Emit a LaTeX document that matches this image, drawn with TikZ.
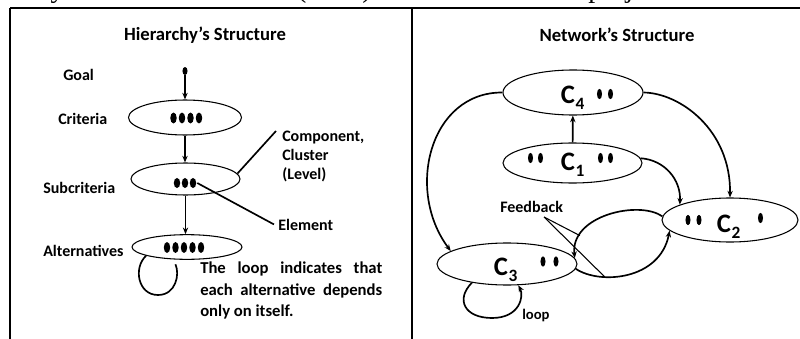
\documentclass[tikz,border=0pt]{standalone}
\usepackage{fontspec}
\setmainfont{Carlito}
\newfontfamily\hdrfont{Liberation Serif}
\usetikzlibrary{shapes.geometric,arrows.meta}
\newcommand{\Cs}[1]{C\kern0.6pt\raisebox{-5pt}{\fontsize{13}{13}\bfseries\selectfont #1}}
\begin{document}
\begin{tikzpicture}[x=0.75pt,y=-0.75pt,
  lbl/.style={font=\fontsize{12}{14}\bfseries\selectfont, inner sep=0pt, anchor=base west},
  ttl/.style={font=\fontsize{14}{16}\bfseries\selectfont, inner sep=0pt, anchor=base},
  cl/.style={font=\fontsize{20}{22}\bfseries\selectfont, inner sep=0pt, anchor=base west},
  hdr/.style={font=\hdrfont\fontsize{21}{21}\selectfont, inner sep=0pt},
  ell/.style={ellipse, draw, line width=0.8pt, inner sep=0pt},
  conn/.style={line width=1.25pt},
  thin/.style={line width=0.8pt},
  arr/.style={conn, -{Stealth[length=5pt,width=4pt]}},
  frameline/.style={line width=1.6pt},
  dotgrp/.style={inner sep=0pt, minimum width=18pt, minimum height=8pt}
]
\useasboundingbox (0,0) rectangle (800,339);
\clip (0,0) rectangle (800,339);

% clipped heading of the page
\node[hdr, anchor=base east] (hdr1) at (372,-2.5) {Analytic Network Process (ANP)};
\node[hdr, anchor=base west] (hdr2) at (588,-2.5) {project};

% frame
\draw[frameline] (10,8) -- (800,8);
\draw[frameline] (10,8) -- (10,339);
\draw[frameline] (412,8) -- (412,339);

% ---------------- Hierarchy ----------------
\node[ttl] (htitle) at (205,40.5) {Hierarchy’s Structure};

\node[ellipse, fill, inner sep=0pt, minimum width=3.8pt, minimum height=6pt] (goal) at (185,71) {};
\node[lbl] (goallbl) at (63,80) {Goal};

\node[ell, minimum width=84.75pt, minimum height=26.25pt] (crit) at (185,117.5) {};
\node[lbl] (critlbl) at (58,124) {Criteria};
\foreach \x in {173.5,182,190.5,199} \fill (\x,118) ellipse (2.4pt and 4.1pt);

\node[ell, minimum width=81.75pt, minimum height=24pt] (sub) at (185.5,179) {};
\node[lbl] (sublbl) at (43,193) {Subcriteria};
\node[dotgrp] (subdots) at (185,183) {};
\foreach \x in {177,185,193} \fill (\x,183) ellipse (2.4pt and 3.8pt);

\node[ell, minimum width=82.5pt, minimum height=18.5pt] (alt) at (187,247) {};
\node[lbl] (altlbl) at (43,256) {Alternatives};
\foreach \x in {167,175.5,184,192.5,201} \fill (\x,247.5) ellipse (2.4pt and 4.1pt);

\draw[arr] (goal) -- (crit);
\draw[arr] (crit.south) -- (crit.south |- sub.north);
\draw[arr] (sub.south) -- (sub.south |- alt.north);

\draw[conn, shorten >=4pt] (alt.192) .. controls (133,268) and (138,295) .. (158,295)
   .. controls (176,295) and (180,274) .. (alt.222);

\node[lbl] (comp1) at (282,141) {Component,};
\node[lbl] (comp2) at (282,160) {Cluster};
\node[lbl] (comp3) at (282,179) {(Level)};
\coordinate (compp) at (276,131);
\draw[conn] (compp) -- (sub.6);

\node[lbl] (elem) at (278,230) {Element};
\draw[conn] ([xshift=-3pt]elem.west) -- (subdots.east);

\node[font=\fontsize{12.5}{16.1}\bfseries\selectfont, text width=136.5pt, align=justify,
      inner sep=0pt, anchor=north west] (note) at (200,262)
  {The loop indicates that\linebreak each alternative depends\linebreak only on itself.};

% ---------------- Network ----------------
\node[ttl] (ntitle) at (617,41) {Network’s Structure};

\node[ell, minimum width=105pt, minimum height=33.75pt] (c4) at (573,92.5) {};
\node[ell, minimum width=104.25pt, minimum height=30pt] (c1) at (572.5,163) {};
\node[ell, minimum width=102pt, minimum height=33pt] (c2) at (730,220) {};
\node[ell, minimum width=105pt, minimum height=31.5pt] (c3) at (507,264) {};

\node[cl] (c4t) at (560.5,103) {\Cs{4}};
\node[cl] (c1t) at (560.5,170) {\Cs{1}};
\node[cl] (c2t) at (716.5,232) {\Cs{2}};
\node[cl] (c3t) at (493.5,275) {\Cs{3}};

\foreach \x in {599.5,610.5} \fill (\x,94) ellipse (1.9pt and 3.9pt);
\foreach \x in {530.5,540.5,600.5,610.5} \fill (\x,158) ellipse (1.9pt and 3.9pt);
\foreach \x in {688,699} \fill (\x,220) ellipse (1.9pt and 3.9pt);
\fill (760.5,218) ellipse (1.9pt and 3.9pt);
\foreach \x in {543,556} \fill (\x,261.5) ellipse (1.9pt and 3.9pt);

\draw[arr] (c1) -- (c4);
\draw[arr] (c4.west) .. controls (430,92) and (405,190) .. (c3.167);
\draw[arr] (c4.east) .. controls (680,93) and (731,130) .. (c2.north);
\draw[arr] (c1.4) .. controls (665,160) and (681,180) .. (c2.163);

\draw[arr] (c2.177) .. controls (640,200) and (570,215) .. coordinate[pos=0.8] (fa) (c3.5);
\draw[arr] (c3.356) .. controls (600,285) and (660,280) .. coordinate[pos=0.3] (fb) (c2.190);

\node[lbl] (fbk) at (500,212) {Feedback};
\coordinate (fbkp) at (544,217);
\draw[thin] (fbkp) -- (fa);
\draw[thin] (fbkp) -- (fb);

\draw[arr] (c3.208) .. controls (455,300) and (465,318) .. (492,318)
   .. controls (520,318) and (524,296) .. (c3.298);
\node[lbl, font=\fontsize{11}{13}\bfseries\selectfont] (looplbl) at (522,319) {loop};

\end{tikzpicture}
\end{document}
